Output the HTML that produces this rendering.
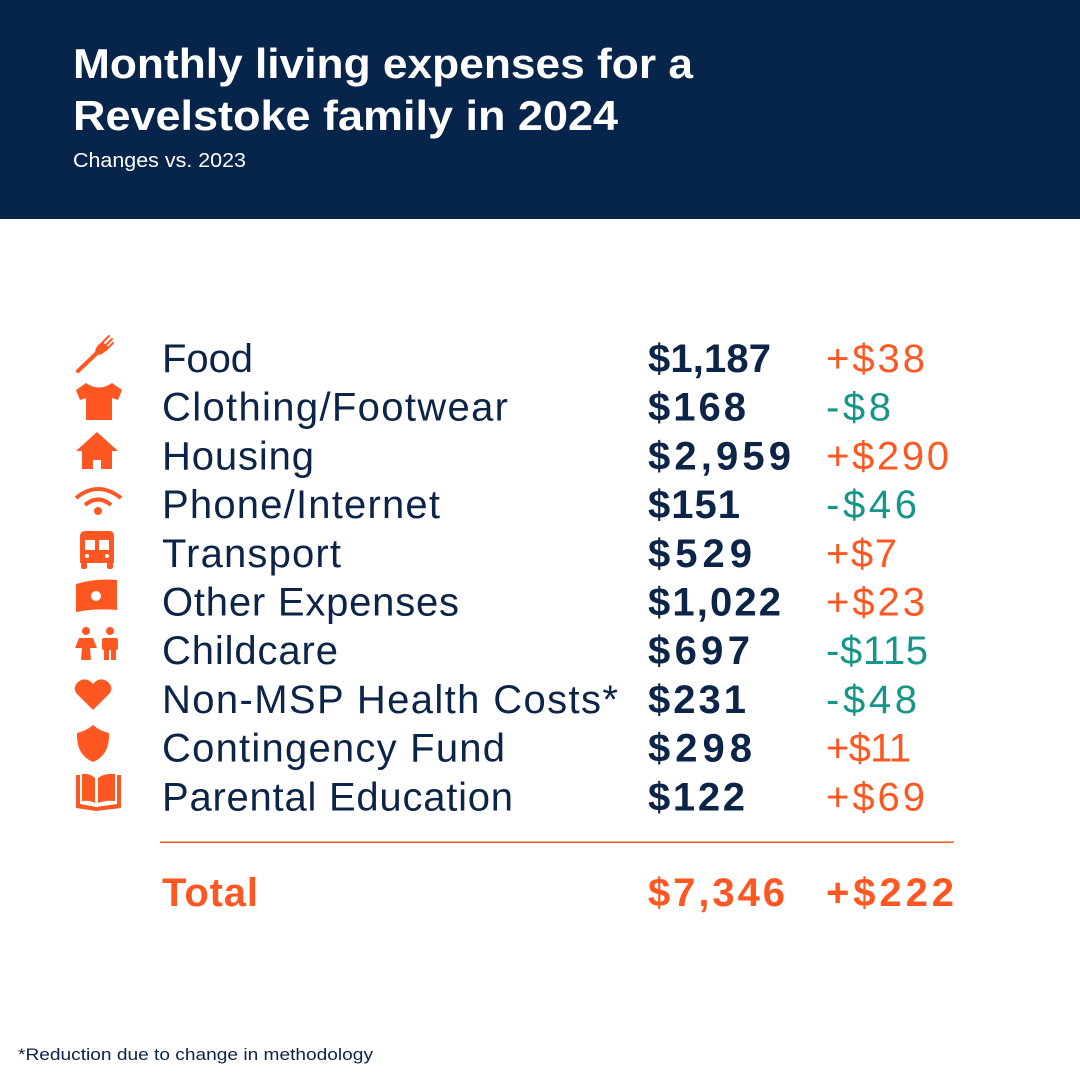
<!DOCTYPE html>
<html><head><meta charset="utf-8"><style>
html,body{margin:0;padding:0;background:#fff}
svg{display:block}
text{font-family:"Liberation Sans",sans-serif}
</style></head><body>
<svg width="1080" height="1080" viewBox="0 0 1080 1080" xmlns="http://www.w3.org/2000/svg">
<rect x="0" y="0" width="1080" height="219" fill="#07244a"/>
<text x="73" y="78" font-size="42" font-weight="bold" fill="#fff" textLength="620" lengthAdjust="spacingAndGlyphs">Monthly living expenses for a</text>
<text x="73" y="130" font-size="42" font-weight="bold" fill="#fff" textLength="545" lengthAdjust="spacingAndGlyphs">Revelstoke family in 2024</text>
<text x="73" y="167" font-size="20" fill="#fff" textLength="173" lengthAdjust="spacingAndGlyphs">Changes vs. 2023</text>

<g font-size="40" fill="#0b2447" lengthAdjust="spacingAndGlyphs">
<text x="162" y="372" textLength="91">Food</text>
<text x="162" y="420.7" textLength="346">Clothing/Footwear</text>
<text x="162" y="469.4" textLength="152">Housing</text>
<text x="162" y="518.1" textLength="278">Phone/Internet</text>
<text x="162" y="566.8" textLength="179">Transport</text>
<text x="162" y="615.5" textLength="297">Other Expenses</text>
<text x="162" y="664.2" textLength="176">Childcare</text>
<text x="162" y="712.9" textLength="456">Non-MSP Health Costs*</text>
<text x="162" y="761.6" textLength="343">Contingency Fund</text>
<text x="162" y="810.3" textLength="351">Parental Education</text>
</g>
<g font-size="40" font-weight="bold" fill="#0b2447" lengthAdjust="spacingAndGlyphs">
<text x="648" y="372" textLength="123">$1,187</text>
<text x="648" y="420.7" textLength="98">$168</text>
<text x="648" y="469.4" textLength="143">$2,959</text>
<text x="648" y="518.1" textLength="92">$151</text>
<text x="648" y="566.8" textLength="104">$529</text>
<text x="648" y="615.5" textLength="133">$1,022</text>
<text x="648" y="664.2" textLength="102">$697</text>
<text x="648" y="712.9" textLength="98">$231</text>
<text x="648" y="761.6" textLength="104">$298</text>
<text x="648" y="810.3" textLength="97">$122</text>
</g>
<g font-size="40" lengthAdjust="spacingAndGlyphs">
<text x="826" y="372" textLength="99" fill="#ff5722">+$38</text>
<text x="826" y="420.7" textLength="65" fill="#16968a">-$8</text>
<text x="826" y="469.4" textLength="123" fill="#ff5722">+$290</text>
<text x="826" y="518.1" textLength="91" fill="#16968a">-$46</text>
<text x="826" y="566.8" textLength="71" fill="#ff5722">+$7</text>
<text x="826" y="615.5" textLength="99" fill="#ff5722">+$23</text>
<text x="826" y="664.2" textLength="102" fill="#16968a">-$115</text>
<text x="826" y="712.9" textLength="91" fill="#16968a">-$48</text>
<text x="826" y="761.6" textLength="85" fill="#ff5722">+$11</text>
<text x="826" y="810.3" textLength="99" fill="#ff5722">+$69</text>
</g>
<rect x="160" y="841.5" width="794" height="1.5" fill="#ff5722"/>
<g font-size="40" font-weight="bold" fill="#ff5722" lengthAdjust="spacingAndGlyphs">
<text x="162" y="906" textLength="96">Total</text>
<text x="648" y="906" textLength="137">$7,346</text>
<text x="826" y="906" textLength="128">+$222</text>
</g>
<text x="18" y="1060" font-size="17" fill="#0b2447" textLength="355" lengthAdjust="spacingAndGlyphs">*Reduction due to change in methodology</text>

<g fill="#ff5722">
<!-- fork -->
<line x1="78" y1="371" x2="98" y2="352" stroke="#ff5722" stroke-width="4" stroke-linecap="round"/>
<path d="M95 351 Q97 344 103 342 L108 347 Q106 353 99 355 Z"/>
<path d="M101 344 L109 336 M104 347 L112 339 M106 350 L113 343" stroke="#ff5722" stroke-width="2" stroke-linecap="round" fill="none"/>
<!-- shirt -->
<path d="M86 383 L76 390 L80 400 L86 398 L86 420 L112 420 L112 398 L118 400 L122 390 L112 383 Q99 392 86 383 Z"/>
<!-- house -->
<path d="M97 432 L76 451 L82 451 L82 469 L93 469 L93 460 L101 460 L101 469 L112 469 L112 451 L118 451 Z"/>
<!-- wifi -->
<circle cx="98" cy="511" r="4"/>
<path d="M76 498 Q98 480 121 498" fill="none" stroke="#ff5722" stroke-width="4"/>
<path d="M85 505 Q98 494 111 505" fill="none" stroke="#ff5722" stroke-width="4"/>
<!-- bus -->
<path d="M80 536 Q80 531 86 531 L109 531 Q114 531 114 536 L114 563 L80 563 Z"/>
<rect x="81" y="562" width="6" height="7" rx="2"/><rect x="107" y="562" width="6" height="7" rx="2"/>
<rect x="85" y="540" width="10" height="10" fill="#fff"/><rect x="99" y="540" width="10" height="10" fill="#fff"/>
<circle cx="87" cy="556" r="2" fill="#fff"/><circle cx="107" cy="556" r="2" fill="#fff"/>
<!-- money -->
<path d="M76 584 Q96 578 117 580 L117 610 Q96 608 76 612 Z"/>
<circle cx="96" cy="596" r="5" fill="#fff"/>
<!-- kids -->
<circle cx="86" cy="631" r="4"/><circle cx="110" cy="631" r="4"/>
<path d="M79 638 L93 638 L97 648 L90 648 L91 660 L81 660 L82 648 L75 648 Z"/>
<rect x="102" y="638" width="16" height="12" rx="2"/>
<rect x="104" y="648" width="5" height="12"/><rect x="111" y="648" width="5" height="12"/>
<!-- heart -->
<path d="M93 710 L77 694 Q72 688 78 682 Q86 676 93 684 Q100 676 108 682 Q114 688 109 694 Z"/>
<!-- shield -->
<path d="M93 725 Q86 731 77 733 Q76 755 93 762 Q110 755 109 733 Q100 731 93 725 Z"/>
<!-- book -->
<path d="M76 775 L76 808 L96 811 L121 808 L121 775 L117 775 L117 804 L96 807 L80 804 L80 775 Z"/>
<path d="M82 774 Q90 773 95 778 L95 803 Q90 800 82 801 Z"/>
<path d="M98 778 Q104 773 115 774 L115 801 Q105 800 98 803 Z"/>
</g>
</svg>
</body></html>
